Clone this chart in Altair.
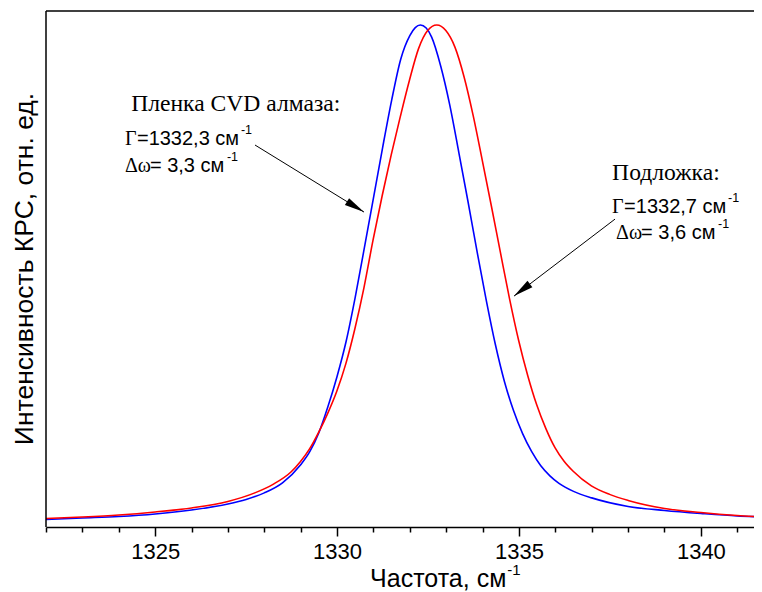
import altair as alt
import pandas as pd

# ---- data ----
blue_x = [1322.0, 1323.0, 1324.0, 1325.0, 1326.0, 1327.0, 1327.5, 1328.0, 1328.5, 1329.0,
          1329.25, 1329.5, 1329.75, 1330.0, 1330.25, 1330.5, 1330.75, 1331.0, 1331.25, 1331.5,
          1331.75, 1332.0, 1332.15, 1332.29, 1332.45, 1332.6, 1332.85, 1333.1, 1333.35, 1333.6,
          1333.85, 1334.1, 1334.35, 1334.6, 1334.85, 1335.1, 1335.35, 1335.6, 1335.85, 1336.1,
          1336.5, 1337.0, 1338.0, 1339.0, 1340.0, 1341.0, 1341.7]
blue_y = [0.015, 0.018, 0.021, 0.026, 0.034, 0.046, 0.055, 0.068, 0.088, 0.124,
          0.150, 0.188, 0.240, 0.300, 0.370, 0.458, 0.556, 0.655, 0.755, 0.850,
          0.932, 0.979, 0.995, 1.000, 0.994, 0.976, 0.918, 0.840, 0.745, 0.648,
          0.548, 0.452, 0.364, 0.290, 0.232, 0.186, 0.150, 0.122, 0.102, 0.087,
          0.071, 0.058, 0.041, 0.033, 0.027, 0.022, 0.020]
red_x = [1322.0, 1323.0, 1324.0, 1325.0, 1326.0, 1327.0, 1327.74, 1328.24, 1328.74, 1328.99,
         1329.24, 1329.49, 1329.74, 1329.99, 1330.24, 1330.49, 1330.74, 1330.99, 1331.24, 1331.49,
         1331.74, 1331.99, 1332.24, 1332.49, 1332.74, 1332.99, 1333.24, 1333.49, 1333.74, 1333.99,
         1334.24, 1334.49, 1334.74, 1334.99, 1335.24, 1335.49, 1335.74, 1335.99, 1336.24, 1336.49,
         1336.99, 1337.49, 1338.0, 1339.0, 1340.0, 1341.0, 1341.7]
red_y = [0.017, 0.020, 0.024, 0.030, 0.038, 0.051, 0.068, 0.085, 0.110, 0.130,
         0.155, 0.188, 0.226, 0.270, 0.325, 0.395, 0.477, 0.572, 0.660, 0.742,
         0.818, 0.890, 0.953, 0.989, 1.000, 0.989, 0.956, 0.897, 0.820, 0.731,
         0.640, 0.547, 0.455, 0.372, 0.302, 0.243, 0.196, 0.158, 0.131, 0.111,
         0.082, 0.065, 0.053, 0.037, 0.029, 0.023, 0.020]

series_names = ["film", "substrate"]
series_colors = ["#0000FF", "#FF0000"]

x_ticks = list(range(1322, 1342))
x_domain = [1322, 1341.68]
y_domain = [0, 1.028]

x_title = "Частота, см"
y_title = "Интенсивность КРС, отн. ед."
sup = "-1"

left_head = "Пленка CVD алмаза:"
left_gamma = "=1332,3 см"
left_dw = "= 3,3 см"
right_head = "Подложка:"
right_gamma = "=1332,7 см"
right_dw = "= 3,6 см"

# ---- tables ----
df = pd.concat([
    pd.DataFrame({"x": blue_x, "y": blue_y, "s": series_names[0]}),
    pd.DataFrame({"x": red_x, "y": red_y, "s": series_names[1]}),
])

xs = alt.Scale(domain=x_domain, nice=False, zero=False)
ys = alt.Scale(domain=y_domain, nice=False, zero=False)

x_axis = alt.Axis(
    values=x_ticks, title=None, grid=False,
    labelExpr="datum.value % 5 === 0 ? datum.label : ''",
    labelOverlap=False, labelFlush=False,
    tickSize={"condition": {"test": "datum.value % 5 === 0", "value": 9}, "value": 5},
    labelPadding=5, format="d")
y_axis = alt.Axis(labels=False, ticks=False, domain=False, title=None, grid=False)

SANS = "Liberation Sans"
SERIF = "Liberation Serif"

lines = alt.Chart(df).mark_line(strokeWidth=1.6, interpolate="monotone", clip=True).encode(
    x=alt.X("x:Q", scale=xs, axis=x_axis),
    y=alt.Y("y:Q", scale=ys, axis=y_axis),
    color=alt.Color("s:N", scale=alt.Scale(domain=series_names, range=series_colors), legend=None),
)

def txt(x, y, text, font, size, dx=0, dy=0, angle=0, align="left", baseline="alphabetic"):
    d = pd.DataFrame({"x": [x], "y": [y], "t": [text]})
    return alt.Chart(d).mark_text(font=font, fontSize=size, dx=dx, dy=dy, angle=angle,
                                  align=align, baseline=baseline, color="black").encode(
        x=alt.X("x:Q", scale=xs, axis=x_axis),
        y=alt.Y("y:Q", scale=ys, axis=y_axis),
        text="t:N")

texts = [
    txt(1324.34, 0.8295, left_head, SERIF, 23.6),
    txt(1324.17, 0.7611, "Γ", SERIF, 20),
    txt(1324.17, 0.7611, left_gamma, SANS, 20, dx=12),
    txt(1324.17, 0.7611, sup, SANS, 12.5, dx=116, dy=-11),
    txt(1324.17, 0.7079, "Δω", SERIF, 20),
    txt(1324.17, 0.7079, left_dw, SANS, 20, dx=25),
    txt(1324.17, 0.7079, sup, SANS, 12.5, dx=102, dy=-11),
    txt(1337.56, 0.6914, right_head, SERIF, 23.6),
    txt(1337.56, 0.6250, "Γ", SERIF, 20),
    txt(1337.56, 0.6250, right_gamma, SANS, 20, dx=12),
    txt(1337.56, 0.6250, sup, SANS, 12.5, dx=116, dy=-11),
    txt(1337.67, 0.5732, "Δω", SERIF, 20),
    txt(1337.67, 0.5732, right_dw, SANS, 20, dx=25),
    txt(1337.67, 0.5732, sup, SANS, 12.5, dx=102, dy=-11),
    txt(1332.78, -0.1195, x_title, SANS, 25, align="center"),
    txt(1332.78, -0.1195, sup, SANS, 15, dx=69, dy=-12),
    txt(1321.42, 0.514, y_title, SANS, 26.5, angle=270, align="center", baseline="middle"),
]

arrows = pd.DataFrame({
    "x": [1327.745, 1337.64], "y": [0.761, 0.6134],
    "x2": [1330.741, 1334.864], "y2": [0.6274, 0.4600],
    "ang": [121.6, 232.7],
})
arrow_lines = alt.Chart(arrows).mark_rule(color="black", strokeWidth=1).encode(
    x=alt.X("x:Q", scale=xs, axis=x_axis), y=alt.Y("y:Q", scale=ys, axis=y_axis),
    x2="x2:Q", y2="y2:Q")
arrow_heads = alt.Chart(arrows).mark_point(
    shape="M0,0 L-0.4,2 L0.4,2 Z", filled=True, color="black", opacity=1, size=400, strokeWidth=0
).encode(
    x=alt.X("x2:Q", scale=xs, axis=x_axis), y=alt.Y("y2:Q", scale=ys, axis=y_axis),
    angle=alt.Angle("ang:Q", scale=None))

# frame: top edge and left edge of the plot area
top_border = pd.DataFrame({"x": [x_domain[0]], "x2": [x_domain[1]], "y": [y_domain[1]]})
top = alt.Chart(top_border).mark_rule(color="black", strokeWidth=1.5).encode(
    x=alt.X("x:Q", scale=xs, axis=x_axis), x2="x2:Q",
    y=alt.Y("y:Q", scale=ys, axis=y_axis))
left_border = pd.DataFrame({"x": [x_domain[0]], "y": [y_domain[0]], "y2": [y_domain[1]]})
left = alt.Chart(left_border).mark_rule(color="black", strokeWidth=1.5).encode(
    x=alt.X("x:Q", scale=xs, axis=x_axis),
    y=alt.Y("y:Q", scale=ys, axis=y_axis), y2="y2:Q")

chart = alt.layer(lines, top, left, arrow_lines, arrow_heads, *texts).properties(
    width=716, height=516,
    autosize=alt.AutoSizeParams(type="none"),
    padding={"left": 38, "top": 3, "right": -8, "bottom": 65},
).configure_view(strokeWidth=0, stroke="transparent").configure_axis(
    domainColor="black", domainWidth=1.5, tickColor="black", tickWidth=1.5,
    labelFont=SANS, labelFontSize=22, labelColor="black",
)

chart.save("out.html", embed_options={"renderer": "svg", "actions": False})
